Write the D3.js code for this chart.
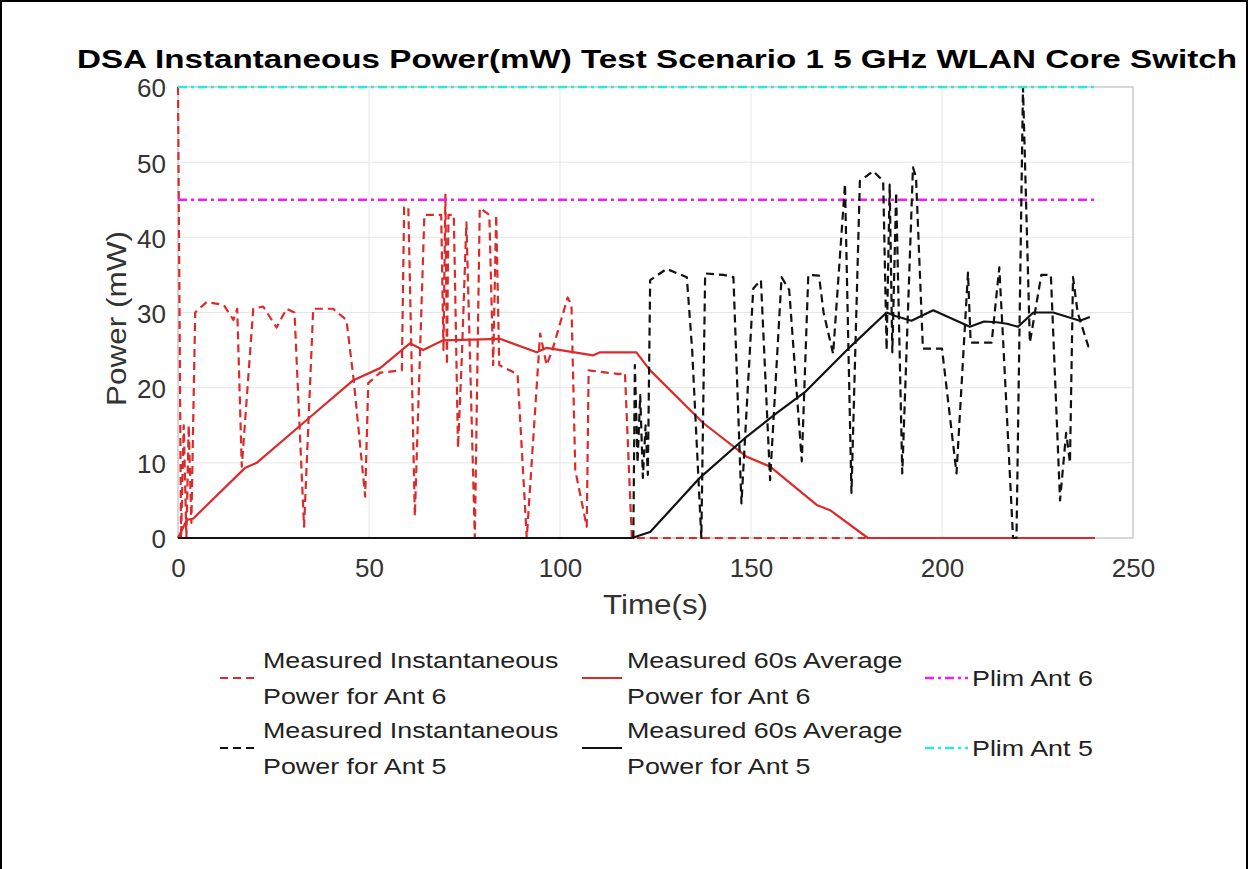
<!DOCTYPE html>
<html>
<head>
<meta charset="utf-8">
<script src="https://cdn.jsdelivr.net/npm/d3@7"></script>
<style>
  body { margin: 0; background: #fff; }
  svg { display: block; font-family: "Liberation Sans", Arial, sans-serif; }
</style>
</head>
<body>
<svg id="chart" width="1250" height="869"></svg>
<script>
// Ant 6 instantaneous power (mW)
const inst6T = [0, 0.8, 1.5, 2.2, 2.8, 3.5, 4.5, 7.5, 12, 14.5, 15.5, 16.7, 19.7, 22.3, 25.8, 28.4, 30.5, 33, 35.4, 40.6, 44.1, 46, 49, 49.8, 52.9, 58.6, 59.2, 60.3, 62, 64.5, 68.9, 69.5, 70, 70.4, 70.8, 72.2, 73.3, 74.3, 75.5, 77.7, 79, 81.5, 82.5, 83.3, 84.1, 88.9, 91.3, 94.8, 96.5, 98, 102, 103, 104, 107, 107.5, 115.5, 117, 118.8, 240];
const inst6P = [60, 0, 15, 0, 15, 2, 30, 31.4, 31, 29, 30.5, 9.5, 30.5, 30.8, 28, 30.5, 30, 1.5, 30.5, 30.5, 29, 21, 5.5, 20.6, 22, 22.3, 44, 44, 2.9, 43, 43, 25, 45.8, 23, 43, 43, 12, 24, 42, 0, 43.9, 43, 23, 43, 23, 21.8, 0, 27.2, 23, 25, 32, 31, 9, 1.5, 22.3, 21.8, 22, 0, 0];

// Ant 6 60s average
const avg6T = [0, 2.3, 4, 17.5, 20.6, 33.7, 45.9, 52.9, 60.7, 64.2, 69.4, 84.3, 93.9, 96.5, 108.7, 110.5, 120, 123.6, 137.5, 148.9, 155, 167.2, 170.7, 180.6, 240];
const avg6P = [0, 2.4, 2.6, 9.3, 10, 15.7, 21, 22.6, 25.9, 25, 26.3, 26.5, 24.7, 25.3, 24.3, 24.7, 24.7, 22.3, 15.3, 10.8, 9.5, 4.4, 3.7, 0, 0];

// Ant 5 instantaneous power (mW)
const inst5T = [0, 119.2, 119.6, 120.3, 121, 121.7, 122.4, 123, 123.6, 127.9, 133.2, 134.6, 137, 138, 142.8, 145.4, 147.5, 150.6, 152.6, 155, 158, 160, 163.3, 165, 167.8, 169, 171.5, 174.6, 176.3, 178.5, 182, 184.6, 185.5, 186.3, 187, 188, 189.6, 192.4, 193.2, 195, 200, 203.8, 206.8, 207.5, 213, 215, 216, 218.6, 219.5, 221.2, 223, 226, 228.5, 230.9, 232.5, 233.5, 234.3, 235.5, 238.3, 239];
const inst5P = [0, 0, 23, 10, 19, 8, 15, 8.4, 34.3, 35.8, 34.7, 25, 0, 35.2, 35, 34.7, 4.6, 33.2, 34.3, 7.7, 34.7, 33, 10.2, 35, 34.9, 30, 24.5, 47.1, 6, 47.5, 48.8, 47.5, 25, 47, 24.7, 46, 8.6, 49.3, 48, 25.2, 25.2, 8.6, 35.3, 26, 26, 36, 26.3, 0, 0, 60, 26, 35, 35, 5, 14, 10, 34.7, 30, 25.5, 25.5];

// Ant 5 60s average
const avg5T = [0, 118.8, 123.6, 136.6, 148.9, 156.7, 164.1, 175.9, 185.5, 188, 192, 197.7, 207.3, 211, 214.3, 217, 219.9, 223.9, 229.1, 236.1, 238.7];
const avg5P = [0, 0, 0.8, 8, 13.5, 16.6, 19.4, 25.4, 30, 29.5, 28.9, 30.3, 28.1, 28.8, 28.7, 28.5, 28.1, 30, 30, 28.9, 29.4];

// power limits
const plimT = [0, 240];
const plim6 = [45, 45];
const plim5 = [60, 60];

const xTicks = [0, 50, 100, 150, 200, 250];
const yTicks = [0, 10, 20, 30, 40, 50, 60];

const titleText = "DSA Instantaneous Power(mW) Test Scenario 1 5 GHz WLAN Core Switch";

const RED = "#dc2a2a", BLACK = "#111", MAGENTA = "#f01ef0", CYAN = "#2ee6dc";

const svg = d3.select("#chart");

// outer frame
svg.append("rect")
  .attr("x", 1).attr("y", 1).attr("width", 1246).attr("height", 900)
  .attr("fill", "none").attr("stroke", "#000").attr("stroke-width", 2);

const x = d3.scaleLinear().domain([0, 250]).range([178, 1133]);
const y = d3.scaleLinear().domain([0, 60]).range([538, 87]);

// grid
const grid = svg.append("g");
grid.selectAll("line.gx").data(xTicks).join("line")
  .attr("x1", d => x(d)).attr("x2", d => x(d))
  .attr("y1", y(0)).attr("y2", y(60))
  .attr("stroke", "#e6e6e6").attr("stroke-width", 1);
grid.selectAll("line.gy").data(yTicks).join("line")
  .attr("x1", x(0)).attr("x2", x(250))
  .attr("y1", d => y(d)).attr("y2", d => y(d))
  .attr("stroke", "#e6e6e6").attr("stroke-width", 1);

// box
svg.append("rect")
  .attr("x", x(0)).attr("y", y(60))
  .attr("width", x(250) - x(0)).attr("height", y(0) - y(60))
  .attr("fill", "none").attr("stroke", "#bdbdbd").attr("stroke-width", 1);

// axes (labels only, MATLAB look)
const xAxis = svg.append("g")
  .attr("transform", `translate(0,${y(0)})`)
  .call(d3.axisBottom(x).tickValues(xTicks).tickSize(0).tickPadding(14));
const yAxis = svg.append("g")
  .attr("transform", `translate(${x(0)},0)`)
  .call(d3.axisLeft(y).tickValues(yTicks).tickSize(0).tickPadding(12));
[xAxis, yAxis].forEach(g => {
  g.select(".domain").remove();
  g.selectAll("text")
    .attr("font-size", 26)
    .attr("fill", "#333")
    .attr("font-family", "Liberation Sans, Arial, sans-serif");
});
xAxis.selectAll("text").attr("dy", "0.95em");
yAxis.selectAll("text").attr("dy", "0.38em");

// axis titles
svg.append("text")
  .attr("x", (x(0) + x(250)) / 2).attr("y", 614)
  .attr("text-anchor", "middle").attr("font-size", 27).attr("fill", "#333")
  .attr("textLength", 105).attr("lengthAdjust", "spacingAndGlyphs")
  .text("Time(s)");
svg.append("text")
  .attr("transform", `translate(126,${(y(0) + y(60)) / 2 + 6}) rotate(-90)`)
  .attr("text-anchor", "middle").attr("font-size", 27).attr("fill", "#333")
  .attr("textLength", 175).attr("lengthAdjust", "spacingAndGlyphs")
  .text("Power (mW)");

// title
svg.append("text")
  .attr("x", 657).attr("y", 68)
  .attr("text-anchor", "middle").attr("font-size", 25).attr("font-weight", "bold")
  .attr("fill", "#000")
  .attr("textLength", 1160).attr("lengthAdjust", "spacingAndGlyphs")
  .text(titleText);

// series
const line = d3.line().x(d => x(d[0])).y(d => y(d[1]));
const series = [
  { t: inst6T, p: inst6P, color: RED, dash: "8,5", w: 2.2 },
  { t: avg6T, p: avg6P, color: RED, dash: null, w: 2.2 },
  { t: plimT, p: plim6, color: MAGENTA, dash: "9,4,3,4", w: 2.6 },
  { t: inst5T, p: inst5P, color: BLACK, dash: "8,5", w: 2.2 },
  { t: avg5T, p: avg5P, color: BLACK, dash: null, w: 2.2 },
  { t: plimT, p: plim5, color: CYAN, dash: "9,4,3,4", w: 2.6 }
];
svg.append("g").selectAll("path").data(series).join("path")
  .attr("d", d => line(d3.zip(d.t, d.p)))
  .attr("fill", "none")
  .attr("stroke", d => d.color)
  .attr("stroke-width", d => d.w)
  .attr("stroke-dasharray", d => d.dash)
  .attr("stroke-linejoin", "round");

// legend
const legendItems = [
  { lines: ["Measured Instantaneous", "Power for Ant 6"], s: 0, col: 0, row: 0 },
  { lines: ["Measured 60s Average", "Power for Ant 6"], s: 1, col: 1, row: 0 },
  { lines: ["Plim Ant 6"], s: 2, col: 2, row: 0 },
  { lines: ["Measured Instantaneous", "Power for Ant 5"], s: 3, col: 0, row: 1 },
  { lines: ["Measured 60s Average", "Power for Ant 5"], s: 4, col: 1, row: 1 },
  { lines: ["Plim Ant 5"], s: 5, col: 2, row: 1 }
];
const colSample = [[220, 255], [582, 622], [925, 968]];
const colText = [263, 627, 972];
const rowMid = [678, 748];
const legend = svg.append("g");
const stretch = 1.22;
legendItems.forEach(it => {
  const sr = series[it.s];
  const cy = rowMid[it.row];
  legend.append("line")
    .attr("x1", colSample[it.col][0]).attr("x2", colSample[it.col][1])
    .attr("y1", cy).attr("y2", cy)
    .attr("stroke", sr.color).attr("stroke-width", sr.w)
    .attr("stroke-dasharray", sr.dash);
  const n = it.lines.length;
  it.lines.forEach((s, i) => {
    const t = legend.append("text")
      .attr("x", colText[it.col])
      .attr("y", cy + (i - (n - 1) / 2) * 36.5 + 8)
      .attr("font-size", 22).attr("fill", "#222")
      .text(s);
    const w = t.node().getComputedTextLength();
    t.attr("textLength", w * stretch).attr("lengthAdjust", "spacingAndGlyphs");
  });
});
</script>
</body>
</html>
